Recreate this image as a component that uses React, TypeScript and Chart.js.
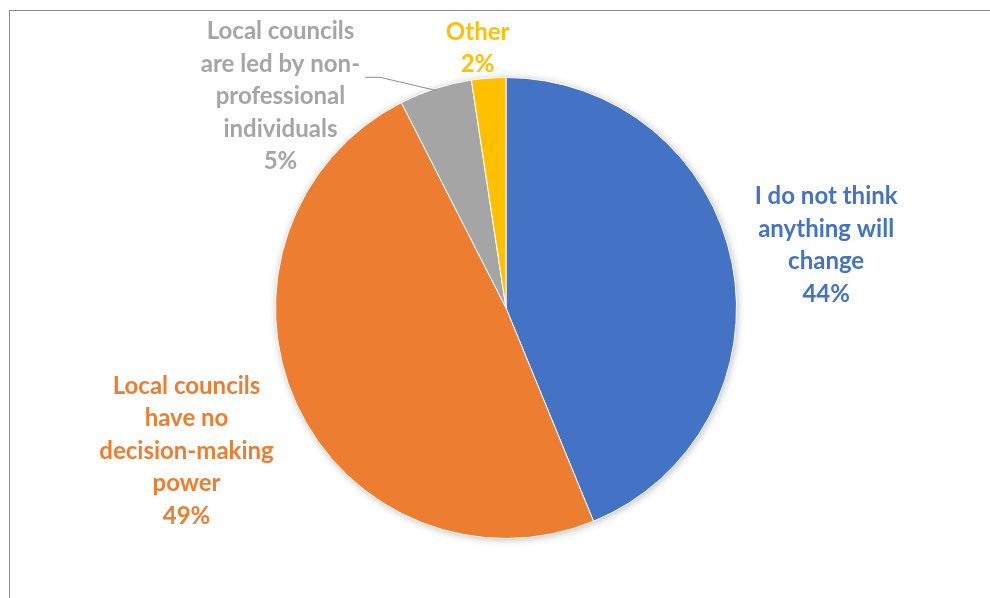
import React, { useEffect, useRef } from "react";
import { Chart, registerables } from "chart.js";

Chart.register(...registerables);

const categories = [
  "I do not think anything will change",
  "Local councils have no decision-making power",
  "Local councils are led by non-professional individuals",
  "Other",
];
const values = [43.8, 48.7, 5.1, 2.4];
const percentLabels = ["44%", "49%", "5%", "2%"];
const labelLines = [
  ["I do not think", "anything will", "change"],
  ["Local councils", "have no", "decision-making", "power"],
  ["Local councils", "are led by non-", "professional", "individuals"],
  ["Other"],
];
const colors = ["#4472C4", "#ED7D31", "#A5A5A5", "#FFC000"];

// label placement offsets from the arc's outer mid-point
const labelOffsets = [
  [94, -18],
  [-110, 47],
  [-155, 8],
  [-11, -30],
];

const FONT = "bold 24px Lato, 'Open Sans', sans-serif";
const LINE_H = 32.5;

const decorPlugin = {
  id: "decor",
  beforeDatasetsDraw(chart: any) {
    const ctx = chart.ctx;
    const meta = chart.getDatasetMeta(0);
    const a = meta.data[0];
    if (!a) return;
    ctx.save();
    ctx.shadowColor = "rgba(0,0,0,0.35)";
    ctx.shadowBlur = 9;
    ctx.shadowOffsetX = 1;
    ctx.shadowOffsetY = 1;
    ctx.fillStyle = "#ffffff";
    ctx.beginPath();
    ctx.arc(a.x, a.y, a.outerRadius - 1, 0, Math.PI * 2);
    ctx.fill();
    ctx.restore();
  },
  afterDraw(chart: any) {
    const ctx = chart.ctx;
    ctx.save();
    // border frame
    ctx.strokeStyle = "#8c8c8c";
    ctx.lineWidth = 1;
    ctx.strokeRect(9.5, 10.5, chart.width + 20, chart.height + 20);

    const meta = chart.getDatasetMeta(0);
    ctx.font = FONT;
    ctx.textAlign = "center";
    ctx.textBaseline = "middle";
    meta.data.forEach((arc: any, i: number) => {
      const mid = (arc.startAngle + arc.endAngle) / 2;
      const px = arc.x + Math.cos(mid) * arc.outerRadius;
      const py = arc.y + Math.sin(mid) * arc.outerRadius;
      const cx = px + labelOffsets[i][0];
      const cy = py + labelOffsets[i][1];
      const lines = [...labelLines[i], percentLabels[i]];
      const top = cy - ((lines.length - 1) * LINE_H) / 2;
      ctx.fillStyle = colors[i];
      lines.forEach((t, k) => ctx.fillText(t, cx, top + k * LINE_H));
      if (i === 2) {
        // leader line
        const w = ctx.measureText(lines[1]).width;
        const lx = cx + w / 2 + 5;
        const ly = top + LINE_H * 1.5 - 3;
        ctx.strokeStyle = "#8c8c8c";
        ctx.lineWidth = 1;
        ctx.beginPath();
        ctx.moveTo(lx, ly);
        ctx.lineTo(lx + 15, ly);
        const ex = arc.x + Math.cos(mid) * (arc.outerRadius - 2);
        const ey = arc.y + Math.sin(mid) * (arc.outerRadius - 2);
        ctx.lineTo(ex, ey);
        ctx.stroke();
      }
    });
    ctx.restore();
  },
};

export default function App() {
  const ref = useRef<HTMLCanvasElement>(null);
  useEffect(() => {
    if (!ref.current) return;
    const chart = new Chart(ref.current, {
      type: "pie",
      data: {
        labels: categories,
        datasets: [
          {
            data: values,
            backgroundColor: colors,
            borderColor: "#ffffff",
            borderWidth: 1,
          },
        ],
      },
      options: {
        animation: false,
        responsive: false,
        events: [],
        layout: { padding: { left: 275, right: 253, top: 77, bottom: 59 } },
        plugins: {
          legend: { display: false },
          tooltip: { enabled: false },
        },
      },
      plugins: [decorPlugin],
    });
    return () => chart.destroy();
  }, []);
  return (
    <div style={{ position: "fixed", left: 0, top: 0, width: 990, height: 598, background: "#fff" }}>
      <canvas ref={ref} width={990} height={598} style={{ display: "block", width: 990, height: 598 }} />
    </div>
  );
}
